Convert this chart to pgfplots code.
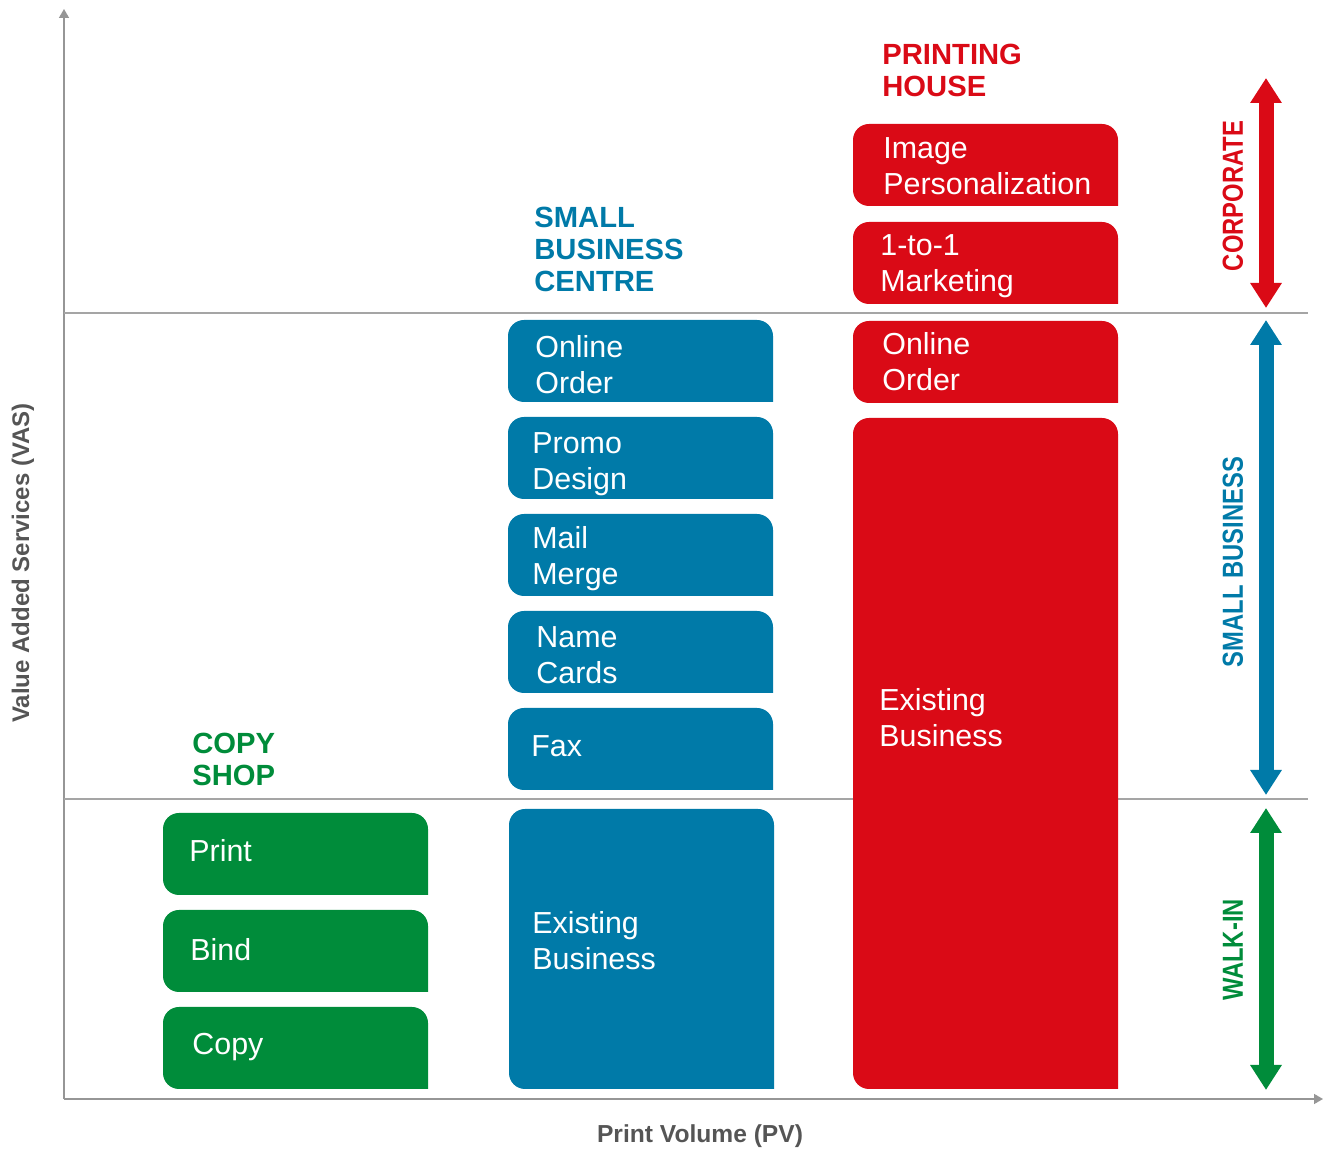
\documentclass[border=0pt]{standalone}
\usepackage{pgfplots}
\pgfplotsset{compat=1.18}
\usepackage{fontspec}
\setmainfont{Liberation Sans}
\usetikzlibrary{arrows.meta}
\definecolor{greenC}{RGB}{0,140,58}
\definecolor{blueC}{RGB}{0,122,168}
\definecolor{redC}{RGB}{218,10,22}
\definecolor{axisgray}{RGB}{150,150,150}
\definecolor{divgray}{RGB}{165,165,165}
\definecolor{labgray}{RGB}{85,85,85}
\tikzset{
  boxtxt/.style={text=white, font=\fontsize{15.2bp}{18bp}\selectfont, align=left, inner sep=0pt, anchor=north west},
  headtxt/.style={font=\fontsize{14.6bp}{16bp}\selectfont\bfseries, align=left, inner sep=0pt, anchor=north west},
  sidetxt/.style={font=\fontsize{14.5bp}{16bp}\selectfont\bfseries, inner sep=0pt, anchor=center, rotate=90},
}
\begin{document}
\begin{tikzpicture}
\begin{axis}[
  x=0.5bp, y=0.5bp,
  xmin=0, xmax=1259, ymin=0, ymax=1090,
  axis lines=left,
  axis line style={draw=axisgray, line width=0.75bp, -{Triangle[length=4.5bp,width=5bp]}},
  xtick=\empty, ytick=\empty,
  clip=false,
]
% bounding box of the whole picture
\path (axis cs:-64,-52) rectangle (axis cs:1263,1099);

% dividers
\addplot[divgray, line width=0.6bp] coordinates {(0,786) (1244,786)};
\addplot[divgray, line width=0.6bp] coordinates {(0,300) (1244,300)};

% green boxes (x 99-364)
\addplot[fill=greenC, draw=none, rounded corners=8bp] coordinates {(364,204) (364,286) (99,286) (99,204) (364,204)};
\addplot[fill=greenC, draw=none, rounded corners=8bp] coordinates {(364,107) (364,189) (99,189) (99,107) (364,107)};
\addplot[fill=greenC, draw=none, rounded corners=8bp] coordinates {(364,10) (364,92) (99,92) (99,10) (364,10)};

% blue boxes (x 444-709)
\addplot[fill=blueC, draw=none, rounded corners=8bp] coordinates {(709,697) (709,779) (444,779) (444,697) (709,697)};
\addplot[fill=blueC, draw=none, rounded corners=8bp] coordinates {(709,600) (709,682) (444,682) (444,600) (709,600)};
\addplot[fill=blueC, draw=none, rounded corners=8bp] coordinates {(709,503) (709,585) (444,585) (444,503) (709,503)};
\addplot[fill=blueC, draw=none, rounded corners=8bp] coordinates {(709,406) (709,488) (444,488) (444,406) (709,406)};
\addplot[fill=blueC, draw=none, rounded corners=8bp] coordinates {(709,309) (709,391) (444,391) (444,309) (709,309)};
\addplot[fill=blueC, draw=none, rounded corners=8bp] coordinates {(710,10) (710,290) (445,290) (445,10) (710,10)};

% red boxes (x 789-1054)
\addplot[fill=redC, draw=none, rounded corners=8bp] coordinates {(1054,893) (1054,975) (789,975) (789,893) (1054,893)};
\addplot[fill=redC, draw=none, rounded corners=8bp] coordinates {(1054,795) (1054,877) (789,877) (789,795) (1054,795)};
\addplot[fill=redC, draw=none, rounded corners=8bp] coordinates {(1054,696) (1054,778) (789,778) (789,696) (1054,696)};
\addplot[fill=redC, draw=none, rounded corners=8bp] coordinates {(1054,10) (1054,681) (789,681) (789,10) (1054,10)};

% segment arrows
\addplot[redC, line width=7.5bp, {Triangle[width=15bp,length=12.5bp]}-{Triangle[width=15bp,length=12.5bp]}] coordinates {(1202,1021) (1202,791)};
\addplot[blueC, line width=7.5bp, {Triangle[width=15bp,length=12.5bp]}-{Triangle[width=15bp,length=12.5bp]}] coordinates {(1202,779) (1202,304)};
\addplot[greenC, line width=7.5bp, {Triangle[width=15bp,length=12.5bp]}-{Triangle[width=15bp,length=12.5bp]}] coordinates {(1202,291) (1202,9)};

% box texts
\node[boxtxt] at (axis cs:125,260) {Print};
\node[boxtxt] at (axis cs:126,161) {Bind};
\node[boxtxt] at (axis cs:128,66) {Copy};

\node[boxtxt] at (axis cs:471,764) {Online\\Order};
\node[boxtxt] at (axis cs:468,667) {Promo\\Design};
\node[boxtxt] at (axis cs:468,573) {Mail\\Merge};
\node[boxtxt] at (axis cs:472,473) {Name\\Cards};
\node[boxtxt] at (axis cs:467,364) {Fax};
\node[boxtxt] at (axis cs:468,188) {Existing\\Business};

\node[boxtxt] at (axis cs:819,962) {Image\\Personalization};
\node[boxtxt] at (axis cs:816,865) {1-to-1\\Marketing};
\node[boxtxt] at (axis cs:818,767) {Online\\Order};
\node[boxtxt] at (axis cs:815,411) {Existing\\Business};

% headers
\node[headtxt, text=redC] at (axis cs:818,1055) {PRINTING\\HOUSE};
\node[headtxt, text=blueC] at (axis cs:470,892) {SMALL\\BUSINESS\\CENTRE};
\node[headtxt, text=greenC] at (axis cs:128,366) {COPY\\SHOP};

% side labels
\node[sidetxt, text=redC] at (axis cs:1169,903) {\scalebox{0.82}[1]{CORPORATE}};
\node[sidetxt, text=blueC] at (axis cs:1169,537) {\scalebox{0.82}[1]{SMALL BUSINESS}};
\node[sidetxt, text=greenC] at (axis cs:1169,149) {\scalebox{0.82}[1]{WALK-IN}};

% axis labels
\node[font=\fontsize{12bp}{14bp}\selectfont\bfseries, text=labgray, rotate=90, inner sep=0pt, anchor=center] at (axis cs:-41,536) {Value Added Services (VAS)};
\node[font=\fontsize{12.3bp}{14bp}\selectfont\bfseries, text=labgray, inner sep=0pt, anchor=center] at (axis cs:636,-37) {Print Volume (PV)};
\end{axis}
\end{tikzpicture}
\end{document}
